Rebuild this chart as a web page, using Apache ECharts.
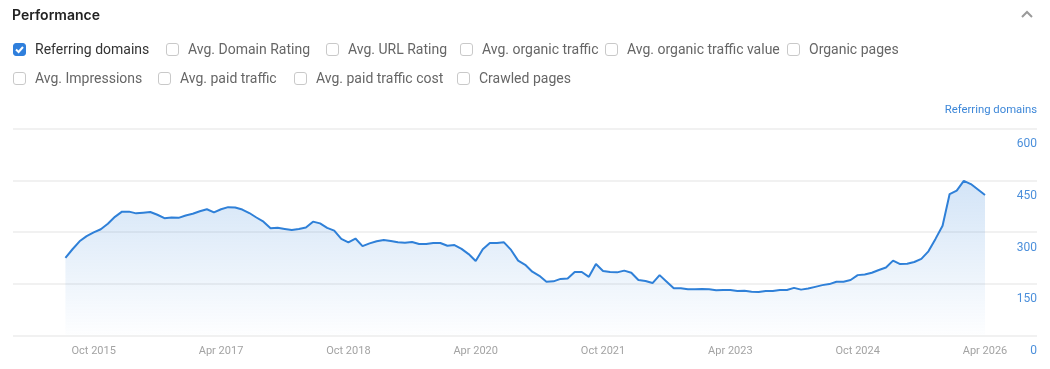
<!DOCTYPE html>
<html>
<head>
<meta charset="utf-8">
<script src="https://cdn.jsdelivr.net/npm/echarts@6/dist/echarts.min.js"></script>
<style>
  html, body { margin: 0; padding: 0; background: #fff; }
  body { width: 1050px; height: 369px; position: relative; overflow: hidden; font-family: Roboto, "Liberation Sans", sans-serif; }
  #chart { position: absolute; left: 0; top: 0; width: 1050px; height: 369px; }
  .title { position: absolute; left: 12px; top: 6px; font-family: Inter, Roboto, sans-serif; font-size: 14px; font-weight: 600; color: #222; }
  .chev { position: absolute; left: 1019px; top: 8px; }
  .item { position: absolute; display: flex; align-items: center; white-space: nowrap; font-size: 14px; color: #666; height: 16px; }
  .box { width: 13px; height: 13px; border: 1px solid #c9c9c9; border-radius: 3px; margin-right: 9px; box-sizing: border-box; background: #fff; flex: none; }
  .box.on { background: #2f7fdc; border-color: #2f7fdc; display: flex; align-items: center; justify-content: center; }
  .item.on { color: #333; }
</style>
</head>
<body>
<div id="chart"></div>
<div class="title">Performance</div>
<svg class="chev" width="16" height="12"><polyline points="3,9 8,4 13,9" fill="none" stroke="#9a9a9a" stroke-width="2"/></svg>
<div id="checks"></div>
<script>
// ---- data ----
const startYear = 2015;
const startMonth = 6; // June 2015 (1-based)
const referringDomains = [
  225, 250, 273, 288, 299, 308, 324, 344, 359, 359, 354, 356, 358, 350, 340, 342, 341, 348, 353, 360,
  366, 357, 366, 372, 371, 365, 355, 342, 330, 311, 312, 309, 306, 309, 313, 330, 325, 312, 304, 280,
  270, 281, 259, 267, 273, 277, 274, 270, 269, 271, 265, 265, 268, 268, 260, 262, 251, 236, 216, 250,
  268, 268, 270, 248, 217, 205, 185, 173, 156, 157, 164, 165, 184, 184, 170, 207, 187, 184, 183, 188,
  182, 161, 158, 152, 175, 156, 137, 137, 134, 134, 135, 134, 131, 132, 132, 129, 130, 127, 126, 129,
  129, 132, 132, 138, 133, 136, 141, 146, 149, 156, 156, 161, 175, 177, 182, 190, 197, 217, 207, 208,
  213, 222, 244, 280, 318, 410, 420, 448, 439, 423, 407
];
const xTickLabels = ['Oct 2015', 'Apr 2017', 'Oct 2018', 'Apr 2020', 'Oct 2021', 'Apr 2023', 'Oct 2024', 'Apr 2026'];
const yTicks = [0, 150, 300, 450, 600];
const yAxisTitle = 'Referring domains';
const checkRow1 = ['Referring domains', 'Avg. Domain Rating', 'Avg. URL Rating', 'Avg. organic traffic', 'Avg. organic traffic value', 'Organic pages'];
const checkRow2 = ['Avg. Impressions', 'Avg. paid traffic', 'Avg. paid traffic cost', 'Crawled pages'];
const checked = ['Referring domains'];

// ---- checkbox layout (page positions) ----
const row1X = [13, 166, 326, 460, 605, 787];
const row2X = [13, 158, 294, 457];
function buildRow(items, xs, top) {
  const host = document.getElementById('checks');
  items.forEach((t, i) => {
    const it = document.createElement('div');
    const on = checked.includes(t);
    it.className = 'item' + (on ? ' on' : '');
    it.style.left = xs[i] + 'px';
    it.style.top = top + 'px';
    const b = document.createElement('div');
    b.className = 'box' + (on ? ' on' : '');
    if (on) b.innerHTML = '<svg width="11" height="11"><polyline points="2,5.5 4.6,8 9,3" fill="none" stroke="#fff" stroke-width="2"/></svg>';
    it.appendChild(b);
    const s = document.createElement('span');
    s.textContent = t;
    it.appendChild(s);
    host.appendChild(it);
  });
}
buildRow(checkRow1, row1X, 41);
buildRow(checkRow2, row2X, 70);

// ---- chart ----
const MONTHS = ['Jan','Feb','Mar','Apr','May','Jun','Jul','Aug','Sep','Oct','Nov','Dec'];
function monthIndex(y, m) { return (y - startYear) * 12 + (m - 1); }
function labelToIndex(s) { const [mn, yr] = s.split(' '); return monthIndex(+yr, MONTHS.indexOf(mn) + 1); }
function indexToLabel(i) { const k = Math.round(i); return MONTHS[((k % 12) + 12) % 12] + ' ' + (startYear + Math.floor(k / 12)); }
const s0 = monthIndex(startYear, startMonth);
const seriesData = referringDomains.map((v, i) => [s0 + i, v]);
const tickIdx = xTickLabels.map(labelToIndex);

const chart = echarts.init(document.getElementById('chart'), null, { renderer: 'canvas' });
chart.setOption({
  animation: false,
  grid: { left: 13, right: 13, top: 128.5, bottom: 33.5, containLabel: false, outerBoundsMode: 'none' },
  graphic: [{
    type: 'text',
    right: 13,
    top: 105,
    style: { text: yAxisTitle, fill: '#3d87d8', fontSize: 11.3, fontFamily: 'Roboto', textAlign: 'right' }
  }],
  xAxis: {
    type: 'value',
    min: tickIdx[0] - 11.41,
    max: tickIdx[tickIdx.length - 1] + 7.35,
    axisLine: { show: false },
    axisTick: { show: false },
    splitLine: { show: false },
    axisLabel: {
      customValues: tickIdx,
      formatter: v => indexToLabel(v),
      color: '#a3a3a3',
      fontSize: 11,
      fontFamily: 'Roboto',
      margin: 10
    }
  },
  yAxis: {
    type: 'value',
    position: 'right',
    min: yTicks[0], max: yTicks[yTicks.length - 1], interval: yTicks[1] - yTicks[0],
    axisLine: { show: false },
    axisTick: { show: false },
    axisLabel: {
      inside: true,
      margin: 0,
      color: '#4b8fdb',
      fontSize: 12,
      fontFamily: 'Roboto',
      verticalAlign: 'top',
      lineHeight: 13,
      padding: [9, 0, 0, 0]
    },
    splitLine: { lineStyle: { color: '#ececec', width: 1.5 } }
  },
  series: [{
    type: 'line',
    data: seriesData,
    symbol: 'none',
    lineStyle: { color: '#2f80d8', width: 2 },
    areaStyle: {
      color: new echarts.graphic.LinearGradient(0, 0, 0, 1, [
        { offset: 0, color: 'rgba(47,128,216,0.30)' },
        { offset: 1, color: 'rgba(47,128,216,0.01)' }
      ])
    }
  }]
});
</script>
</body>
</html>
